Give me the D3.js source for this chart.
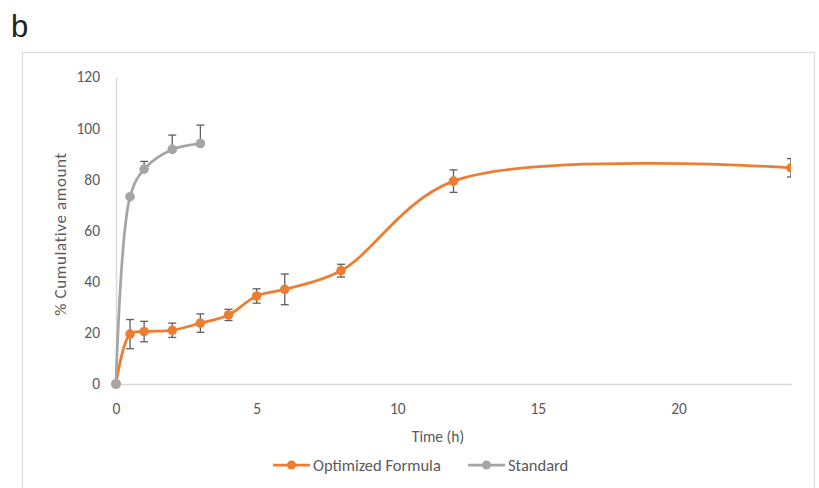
<!DOCTYPE html>
<html lang="en">
  <head>
    <meta charset="UTF-8" />
    <title>Cumulative release</title>
    <style>
      body { margin: 0; background: #fff; }
      svg text { font-family: Carlito, Lato, "Open Sans", sans-serif; fill: #595959; }
      .panel { font-family: "Liberation Sans", Arial, sans-serif; fill: #222; }
    </style>
  </head>
  <body>
    <svg width="819" height="488"></svg>
    <script src="https://d3js.org/d3.v7.min.js"></script>
    <script>
      // data
      const times = [0, 0.5, 1, 2, 3, 4, 5, 6, 8, 12, 24];
      const optimized = [0, 19.5, 20.5, 21, 23.8, 27, 34.4, 37, 44.3, 79.3, 84.5];
      const optimizedErr = [0, 5.7, 4, 2.8, 3.6, 2.2, 2.8, 6, 2.5, 4.4, 3.6];
      const stdTimes = [0, 0.5, 1, 2, 3];
      const standard = [0, 73.2, 84, 91.7, 94];
      const standardErr = [0, 0, 3, 5.6, 7.2];
      const xTicks = [0, 5, 10, 15, 20];
      const yTicks = [0, 20, 40, 60, 80, 100, 120];

      const svg = d3.select("svg");

      const x = d3.scaleLinear().domain([0, 24]).range([116, 791]);
      const y = d3.scaleLinear().domain([0, 120]).range([384, 77]);

      // panel letter
      svg.append("text").attr("class", "panel")
        .attr("x", 11).attr("y", 37)
        .attr("font-size", 31)
        .text("b");

      // chart area border
      svg.append("rect")
        .attr("x", 22.5).attr("y", 52.5)
        .attr("width", 792).attr("height", 460)
        .attr("fill", "none")
        .attr("stroke", "#d9d9d9");

      svg.append("defs").append("clipPath").attr("id", "plot")
        .append("rect")
        .attr("x", x(0) - 8).attr("y", y(120) - 10)
        .attr("width", x(24) - x(0) + 8).attr("height", y(0) - y(120) + 20);

      // axes
      const xAxis = svg.append("g")
        .attr("transform", `translate(0,${y(0)})`)
        .call(d3.axisBottom(x).tickValues(xTicks).tickSize(0).tickPadding(19));
      xAxis.select(".domain").attr("stroke", "#d9d9d9").attr("stroke-width", 1.5);
      xAxis.selectAll("text").attr("font-size", 15.5).attr("fill", "#595959");

      const yAxis = svg.append("g")
        .attr("transform", `translate(${x(0)},0)`)
        .call(d3.axisLeft(y).tickValues(yTicks).tickSize(0).tickPadding(16));
      yAxis.select(".domain").attr("stroke", "#d9d9d9").attr("stroke-width", 1.5);
      yAxis.selectAll("text").attr("font-size", 15.5).attr("fill", "#595959");

      svg.append("text")
        .attr("x", 438).attr("y", 442)
        .attr("text-anchor", "middle")
        .attr("font-size", 15.5)
        .text("Time (h)");

      svg.append("text")
        .attr("transform", "translate(66,234) rotate(-90)")
        .attr("text-anchor", "middle")
        .attr("font-size", 17)
        .attr("letter-spacing", 0.6)
        .text("% Cumulative amount");

      const series = [
        { name: "Optimized Formula", t: times, v: optimized, e: optimizedErr, color: "#ed7d31", minus: true },
        { name: "Standard", t: stdTimes, v: standard, e: standardErr, color: "#a5a5a5", minus: false }
      ];

      const line = d3.line()
        .x(d => x(d[0]))
        .y(d => y(d[1]))
        .curve(d3.curveCatmullRom.alpha(0.5));

      const plot = svg.append("g").attr("clip-path", "url(#plot)");

      series.forEach(s => {
        const pts = s.t.map((t, i) => [t, s.v[i], s.e[i]]);
        const g = plot.append("g");
        g.append("path")
          .datum(pts)
          .attr("d", line)
          .attr("fill", "none")
          .attr("stroke", s.color)
          .attr("stroke-width", 2.75);

        // error bars
        const eb = g.selectAll(".err").data(pts.filter(d => d[2] > 0)).enter().append("g");
        eb.append("line")
          .attr("x1", d => x(d[0])).attr("x2", d => x(d[0]))
          .attr("y1", d => y(d[1] + d[2]))
          .attr("y2", d => y(s.minus ? d[1] - d[2] : d[1]))
          .attr("stroke", "#5f5f5f").attr("stroke-width", 1.3);
        eb.append("line")
          .attr("x1", d => x(d[0]) - 4).attr("x2", d => x(d[0]) + 4)
          .attr("y1", d => y(d[1] + d[2])).attr("y2", d => y(d[1] + d[2]))
          .attr("stroke", "#5f5f5f").attr("stroke-width", 1.3);
        if (s.minus) {
          eb.append("line")
            .attr("x1", d => x(d[0]) - 4).attr("x2", d => x(d[0]) + 4)
            .attr("y1", d => y(d[1] - d[2])).attr("y2", d => y(d[1] - d[2]))
            .attr("stroke", "#5f5f5f").attr("stroke-width", 1.3);
        }

        g.selectAll(".pt").data(pts).enter().append("circle")
          .attr("cx", d => x(d[0])).attr("cy", d => y(d[1]))
          .attr("r", 4.8)
          .attr("fill", s.color);
      });

      // legend
      const legend = svg.append("g").attr("transform", "translate(0,465)");
      const legendX = [273, 468];
      series.forEach((s, i) => {
        const lg = legend.append("g").attr("transform", `translate(${legendX[i]},0)`);
        lg.append("line").attr("x1", 0).attr("x2", 37).attr("y1", 0).attr("y2", 0)
          .attr("stroke", s.color).attr("stroke-width", 2.75);
        lg.append("circle").attr("cx", 18.5).attr("cy", 0).attr("r", 4.5).attr("fill", s.color);
        lg.append("text").attr("x", 40).attr("y", 5.5)
          .attr("font-size", 16.5)
          .text(s.name);
      });
    </script>
  </body>
</html>
